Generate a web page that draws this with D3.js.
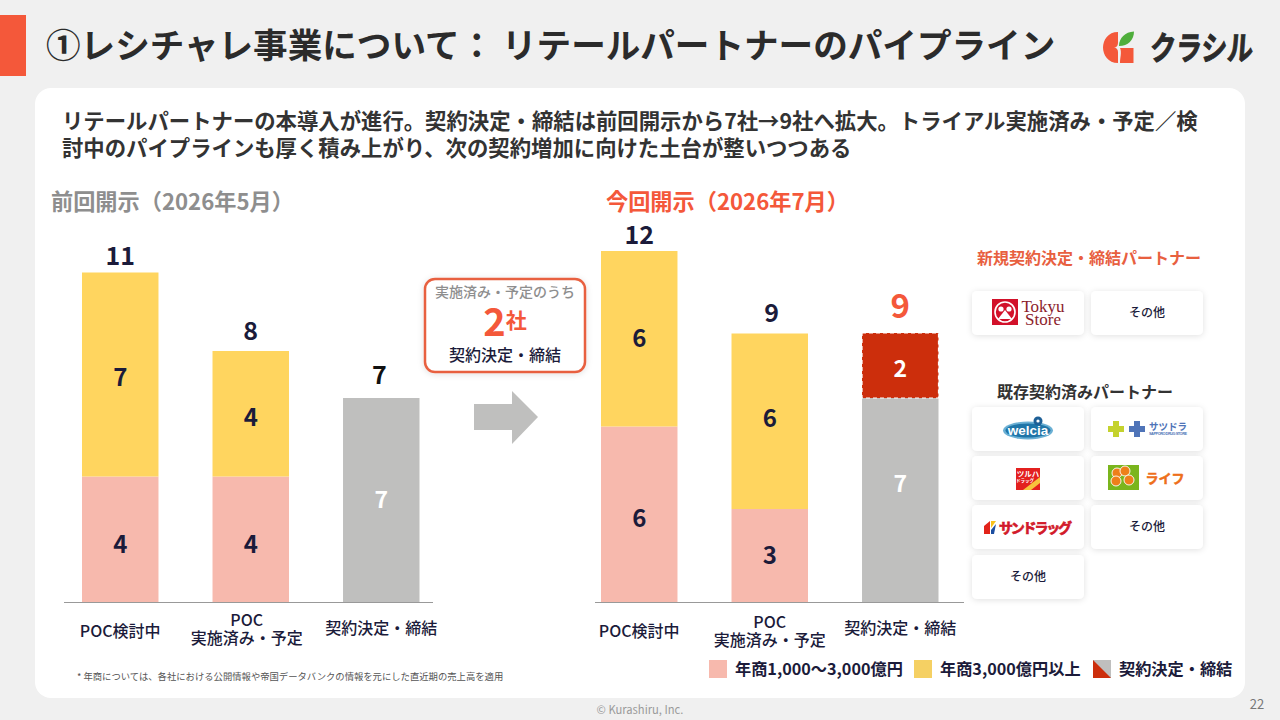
<!DOCTYPE html>
<html>
<head>
<meta charset="utf-8">
<script src="https://cdn.jsdelivr.net/npm/d3@7"></script>
<style>
  html, body { margin: 0; padding: 0; background: #f0f0f0; }
  svg { display: block; }
  text { font-family: "Noto Sans CJK JP", "Noto Sans", sans-serif; }
</style>
</head>
<body>
<svg id="chart" width="1280" height="720"></svg>
<script>
// chart data
const categories = ['POC検討中', 'POC\n実施済み・予定', '契約決定・締結'];
const prevPink = [4, 4, 0];
const prevYellow = [7, 4, 0];
const prevGrey = [0, 0, 7];
const prevRed = [0, 0, 0];
const currPink = [6, 3, 0];
const currYellow = [6, 6, 0];
const currGrey = [0, 0, 7];
const currRed = [0, 0, 2];
const seriesNames = ['pink', 'yellow', 'grey', 'red'];
const legendLabels = ['年商1,000～3,000億円', '年商3,000億円以上', '契約決定・締結'];
const newPartners = ['tokyu', 'その他'];
const existingPartners = ['welcia', 'satsudora', 'tsuruha', 'life', 'sundrug', 'その他', 'その他'];

const colors = {pink: '#f7b9ad', yellow: '#ffd55f', grey: '#bfbfbe', red: '#cc2e0c'};
const navy = '#1b1b3a';
const orange = '#f4583a';

const svg = d3.select('#chart');

const defs = svg.append('defs');
const shadow = defs.append('filter').attr('id', 'cardShadow')
    .attr('x', '-15%').attr('y', '-25%').attr('width', '130%').attr('height', '160%');
shadow.append('feDropShadow')
    .attr('dx', 0).attr('dy', 1).attr('stdDeviation', 3)
    .attr('flood-color', '#000').attr('flood-opacity', 0.12);

function label(sel, x, y, str, size, fill, weight, anchor) {
  return sel.append('text')
      .attr('x', x).attr('y', y)
      .attr('font-size', size)
      .attr('font-weight', weight || 700)
      .attr('fill', fill)
      .attr('text-anchor', anchor || 'middle')
      .attr('dominant-baseline', 'central')
      .text(str);
}

// page frame
svg.append('rect').attr('width', 1280).attr('height', 720).attr('fill', '#f0f0f0');
svg.append('rect').attr('x', 0).attr('y', 15).attr('width', 26).attr('height', 61).attr('fill', orange);
svg.append('rect').attr('x', 35).attr('y', 88).attr('width', 1210).attr('height', 610).attr('rx', 16).attr('fill', '#fff');

label(svg, 46, 43, '①レシチャレ事業について： リテールパートナーのパイプライン', 34.6, '#2b2b2b', 700, 'start');
label(svg, 62, 119, 'リテールパートナーの本導入が進行。契約決定・締結は前回開示から7社→9社へ拡大。トライアル実施済み・予定／検', 21.36, '#333', 700, 'start');
label(svg, 62, 146, '討中のパイプラインも厚く積み上がり、次の契約増加に向けた土台が整いつつある', 21.36, '#333', 700, 'start');
label(svg, 51, 200, '前回開示（2026年5月）', 22.2, '#8e8e8e', 700, 'start');
label(svg, 606, 200, '今回開示（2026年7月）', 22.2, orange, 700, 'start');

// logo
const logo = svg.append('g');
logo.append('path').attr('fill', orange)
    .attr('d', 'M1118 32 C1108 32 1103 40 1103 47.5 C1103 55 1108 63 1118 63 L1118 52 C1118 49 1116 47.5 1114 47.5 C1116 47.5 1118 46 1118 43 Z');
logo.append('path').attr('fill', orange)
    .attr('d', 'M1120 48 L1133.500 48 L1133.500 63 L1120 63 C1120 58 1122 52 1120 48 Z');
logo.append('path').attr('fill', '#4fae3c')
    .attr('d', 'M1119 46 C1119 38 1125 32 1134 31.500 C1134 40 1128 46 1119 46 Z');
label(logo, 1201.5, 46.5, 'クラシル', 33, '#2b2b2b', 700)
    .attr('textLength', 103).attr('lengthAdjust', 'spacingAndGlyphs')
    .attr('stroke', '#2b2b2b').attr('stroke-width', 1)
    .attr('transform', 'translate(3.500,0) skewX(-4)')
    .attr('paint-order', 'stroke');

// the slide's bars are not strictly proportional, so the height scale follows its segments
const heightScale = d3.scaleLinear().domain([0, 2, 3, 4, 6, 7]).range([0, 65, 93, 125.5, 175.5, 204]);
const baseline = 602;

function drawPanel(rangeStart, axisLeft, axisRight, values, nudge) {
  const x = d3.scaleBand().domain(categories)
      .range([rangeStart, rangeStart + 337.5]).paddingInner(0.414).paddingOuter(0);
  const g = svg.append('g');

  categories.forEach((cat, i) => {
    let top = baseline;
    seriesNames.forEach((name) => {
      const v = values[name][i];
      if (!v) return;
      const h = heightScale(v);
      top -= h;
      g.append('rect')
          .attr('x', x(cat)).attr('y', top)
          .attr('width', x.bandwidth()).attr('height', h)
          .attr('fill', colors[name]);
      if (name === 'red') {
        g.append('rect')
            .attr('x', x(cat)).attr('y', top)
            .attr('width', x.bandwidth()).attr('height', h)
            .attr('fill', 'none').attr('stroke', '#fff').attr('stroke-width', 1.2)
            .attr('stroke-dasharray', '4 3');
      }
      const light = name === 'grey' || name === 'red';
      label(g, x(cat) + x.bandwidth() / 2, top + h / 2 + nudge[name][i], v, light ? 23 : 24, light ? '#fff' : navy);
    });
  });

  const axis = g.append('g')
      .attr('transform', `translate(0,${baseline + 0.5})`)
      .call(d3.axisBottom(x).tickSize(0).tickFormat(''));
  axis.select('.domain')
      .attr('d', `M${axisLeft},0H${axisRight}`)
      .attr('stroke', '#999');
  return {x, g};
}

function catLabels(panel, offsets, lineY) {
  categories.forEach((cat, i) => {
    const cx = panel.x(cat) + panel.x.bandwidth() / 2 + offsets[i];
    const lines = cat.split('\n');
    lines.forEach((line, j) => {
      label(panel.g, cx, lineY[i] + j * 18, line, 16, navy, 500);
    });
  });
}

const prev = drawPanel(82, 64, 433,
    {pink: prevPink, yellow: prevYellow, grey: prevGrey, red: prevRed},
    {pink: [3, 3, 0], yellow: [1, 2, 0], grey: [0, 0, -2], red: [0, 0, 0]});
const curr = drawPanel(601, 595, 964,
    {pink: currPink, yellow: currYellow, grey: currGrey, red: currRed},
    {pink: [2, -2, 0], yellow: [-2, -5, 0], grey: [0, 0, -18], red: [0, 0, 1]});
catLabels(prev, [0, -4, 0], [630, 619, 627]);
catLabels(curr, [0, 0, 0], [630, 621, 627]);

// totals over the stacks
function totals(panel, arrs, ys) {
  categories.forEach((cat, i) => {
    const t = d3.sum(arrs, (a) => a[i]);
    label(panel.g, panel.x(cat) + panel.x.bandwidth() / 2 + (ys[i].dx || 0), ys[i].y, t, ys[i].big ? 33 : 25, ys[i].fill || navy);
  });
}
totals(prev, [prevPink, prevYellow, prevGrey, prevRed], [{y: 254}, {y: 329}, {y: 373, fill: '#111', dx: -2}]);
totals(curr, [currPink, currYellow, currGrey, currRed], [{y: 233}, {y: 311, dx: 2}, {y: 304, fill: orange, big: true}]);

// callout
const callout = svg.append('g');
callout.append('rect').attr('x', 425).attr('y', 279).attr('width', 160).attr('height', 93).attr('rx', 10)
    .attr('fill', '#fff').attr('stroke', '#e8603f').attr('stroke-width', 2.5).attr('filter', 'url(#cardShadow)');
label(callout, 505, 291, '実施済み・予定のうち', 14, '#8e8e8e', 500);
const two = label(callout, 505, 319, '', 38, orange);
two.append('tspan').text('2');
two.append('tspan').attr('font-size', 21).text('社');
label(callout, 505, 354, '契約決定・締結', 16, navy, 500);

// arrow
svg.append('path').attr('fill', '#bfbfbe')
    .attr('d', d3.line()([[474, 404], [512, 404], [512, 391], [538, 417], [512, 444], [512, 430], [474, 430]]) + 'Z');

// partner cards
const cardW = 112;
const cardH = 44;
const colX = d3.scaleOrdinal().domain([0, 1]).range([972, 1091]);
const rowY = d3.scaleOrdinal().domain([0, 1, 2, 3]).range([407, 456, 505, 555]);

label(svg, 1089, 257, '新規契約決定・締結パートナー', 16, '#e8603f');
label(svg, 1085, 391, '既存契約済みパートナー', 16, '#333');

function logoArt(g, name, cx, cy) {
  if (name === 'tokyu') {
    g.append('rect').attr('x', cx - 36).attr('y', cy - 14).attr('width', 26).attr('height', 26).attr('fill', '#d2112a');
    g.append('circle').attr('cx', cx - 23).attr('cy', cy - 1).attr('r', 10).attr('fill', 'none').attr('stroke', '#fff').attr('stroke-width', 1.6);
    g.append('circle').attr('cx', cx - 27).attr('cy', cy - 4).attr('r', 2.6).attr('fill', '#fff');
    g.append('circle').attr('cx', cx - 19).attr('cy', cy - 4).attr('r', 2.6).attr('fill', '#fff');
    g.append('path').attr('fill', '#fff').attr('d', `M${cx - 30},${cy + 6}L${cx - 23},${cy - 3}L${cx - 16},${cy + 6}Z`);
    label(g, cx + 15, cy - 7, 'Tokyu', 17, '#8c1d2c', 400).style('font-family', 'Liberation Serif');
    label(g, cx + 15, cy + 6, 'Store', 17, '#8c1d2c', 400).style('font-family', 'Liberation Serif');
  } else if (name === 'welcia') {
    g.append('ellipse').attr('cx', cx).attr('cy', cy + 1.5).attr('rx', 25).attr('ry', 9).attr('fill', '#6bb0d4');
    g.append('ellipse').attr('cx', cx).attr('cy', cy + 1.5).attr('rx', 22.5).attr('ry', 7).attr('fill', '#1f75a8');
    g.append('circle').attr('cx', cx + 10).attr('cy', cy - 8).attr('r', 4.5).attr('fill', '#1d5f96');
    g.append('circle').attr('cx', cx + 10).attr('cy', cy - 8).attr('r', 1.6).attr('fill', '#fff');
    label(g, cx, cy + 1.5, 'welcia', 13.5, '#fff').style('font-family', 'Liberation Sans');
  } else if (name === 'satsudora') {
    const plus = (px, col) => g.append('path').attr('fill', col)
        .attr('d', `M${px - 3},${cy - 8}h6v5h5v6h-5v5h-6v-5h-5v-6h5Z`);
    plus(cx - 31, '#c4d22e');
    plus(cx - 10, '#4f74b8');
    label(g, cx + 21, cy - 3, 'サツドラ', 9.5, '#4f74b8').attr('textLength', 38);
    label(g, cx + 21, cy + 5, 'SAPPORO DRUG STORE', 3.8, '#4f74b8')
        .attr('textLength', 38).style('font-family', 'Liberation Sans');
  } else if (name === 'tsuruha') {
    g.append('rect').attr('x', cx - 12).attr('y', cy - 10).attr('width', 24).attr('height', 22).attr('fill', '#e3201f');
    g.append('path').attr('fill', '#f7c23c').attr('d', `M${cx - 5},${cy + 12}L${cx + 12},${cy - 1}V${cy + 5}L${cx + 3},${cy + 12}Z`);
    label(g, cx, cy - 5, 'ツルハ', 7.5, '#fff');
    label(g, cx - 3, cy + 1.5, 'ドラッグ', 4.5, '#fff');
  } else if (name === 'life') {
    g.append('rect').attr('x', cx - 39).attr('y', cy - 13).attr('width', 31).attr('height', 25).attr('fill', '#7ab51d');
    [[-6, -5], [2, -7], [-7, 3], [6, 2]].forEach(([dx, dy]) => {
      g.append('circle').attr('cx', cx - 24 + dx).attr('cy', cy + dy).attr('r', 5)
          .attr('fill', '#ee7f1a').attr('stroke', '#fff').attr('stroke-width', 0.9);
    });
    label(g, cx + 18, cy - 1, 'ライフ', 13, '#ee6f1a').attr('textLength', 39)
        .attr('stroke', '#ee6f1a').attr('stroke-width', 0.5);
  } else if (name === 'sundrug') {
    g.append('path').attr('fill', '#e2231a').attr('d', `M${cx - 44},${cy - 1}L${cx - 38},${cy - 6}V${cy + 7}H${cx - 44}Z`);
    g.append('path').attr('fill', '#f9c21a').attr('d', `M${cx - 37},${cy - 6}L${cx - 32},${cy - 6}L${cx - 37},${cy + 1}Z`);
    g.append('path').attr('fill', '#1c4ea0').attr('d', `M${cx - 37},${cy + 3}L${cx - 32},${cy - 3}L${cx - 34},${cy + 7}H${cx - 37}Z`);
    label(g, cx + 7.5, cy, 'サンドラッグ', 14, '#d21a2a').attr('textLength', 73)
        .attr('stroke', '#d21a2a').attr('stroke-width', 0.7);
  }
}

function cards(list, xOf, yOf) {
  list.forEach((name, i) => {
    const g = svg.append('g');
    const x0 = xOf(i);
    const y0 = yOf(i);
    g.append('rect').attr('x', x0).attr('y', y0).attr('width', cardW).attr('height', cardH).attr('rx', 5)
        .attr('fill', '#fff').attr('filter', 'url(#cardShadow)');
    const cx = x0 + cardW / 2;
    const cy = y0 + cardH / 2;
    if (name === 'その他') label(g, cx, cy - 2, name, 12, navy, 500);
    else logoArt(g, name, cx, cy);
  });
}
cards(newPartners, (i) => colX(i), () => 291);
cards(existingPartners, (i) => colX(i % 2), (i) => rowY(Math.floor(i / 2)));

// legend
const legendX = d3.scaleOrdinal().domain(legendLabels).range([709, 914, 1093]);
const legendFill = d3.scaleOrdinal().domain(legendLabels).range([colors.pink, '#f5d063', colors.grey]);
legendLabels.forEach((name, i) => {
  const lx = legendX(name);
  svg.append('rect').attr('x', lx).attr('y', 660).attr('width', 18).attr('height', 18).attr('fill', legendFill(name));
  if (i === 2) {
    svg.append('path').attr('fill', colors.red)
        .attr('d', d3.line()([[lx, 660], [lx + 18, 678], [lx, 678]]) + 'Z');
  }
  label(svg, lx + 26, 668, name, 16.2, navy, 700, 'start');
});

// footer
label(svg, 77, 676, '* 年商については、各社における公開情報や帝国データバンクの情報を元にした直近期の売上高を適用', 9.33, '#555', 400, 'start');
label(svg, 640, 709, '© Kurashiru, Inc.', 11.2, '#9a9a9a', 400);
label(svg, 1257, 703, '22', 13, '#777', 400);
</script>
</body>
</html>
